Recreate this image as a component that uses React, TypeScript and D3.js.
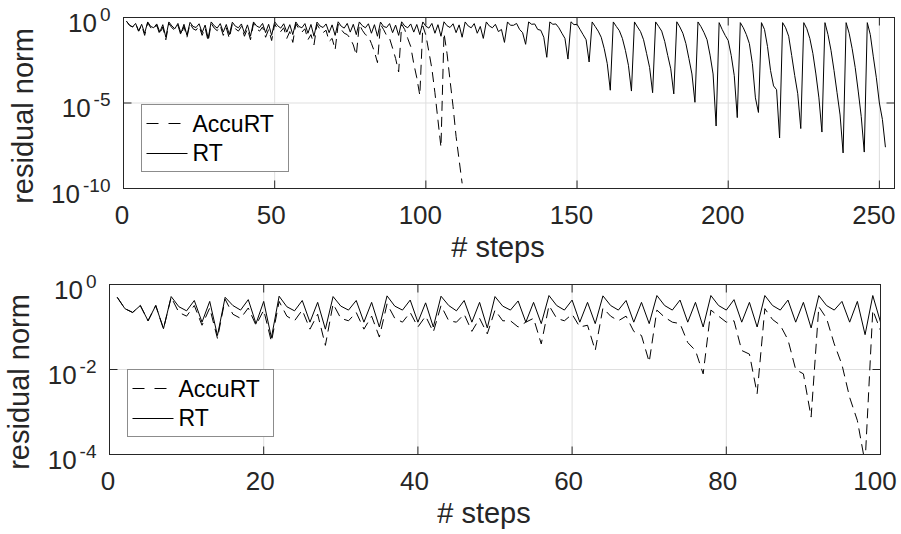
import React from "react";
import * as d3 from "d3";

// ---- data (residual norms, step index = position + 1) ----
const topRT = [
  0.60, 0.35, 0.28, 0.45, 0.16, 0.40, 0.12,
  0.55, 0.30, 0.25, 0.42, 0.14, 0.38, 0.07,
  0.55, 0.32, 0.22, 0.45, 0.12, 0.40, 0.09,
  0.52, 0.30, 0.26, 0.43, 0.13, 0.36, 0.06,
  0.55, 0.33, 0.24, 0.44, 0.14, 0.39, 0.10,
  0.53, 0.31, 0.25, 0.42, 0.12, 0.37, 0.08,
  0.55, 0.32, 0.26, 0.45, 0.13, 0.40, 0.09,
  0.56, 0.33, 0.24, 0.43, 0.14, 0.38, 0.10,
  0.55, 0.30, 0.25, 0.44, 0.12, 0.39, 0.08,
  0.54, 0.32, 0.26, 0.42, 0.13, 0.37, 0.09,
  0.56, 0.31, 0.24, 0.45, 0.14, 0.40, 0.10,
  0.55, 0.33, 0.25, 0.43, 0.12, 0.38, 0.08,
  0.54, 0.30, 0.26, 0.44, 0.13, 0.36, 0.09,
  0.56, 0.32, 0.25, 0.42, 0.14, 0.39, 0.10,
  0.55, 0.31, 0.24, 0.45, 0.12, 0.38, 0.08,
  0.56, 0.33, 0.26, 0.43, 0.13, 0.37, 0.07,
  0.55, 0.32, 0.25, 0.44, 0.12, 0.30, 0.06,
  0.55, 0.32, 0.25, 0.40, 0.15, 0.20, 0.035,
  0.55, 0.35, 0.35, 0.45, 0.20, 0.13, 0.027,
  0.55, 0.40, 0.42, 0.20, 0.18, 0.07, 0.0047,
  0.55, 0.40, 0.42, 0.25, 0.12, 0.06, 0.0037,
  0.56, 0.38, 0.40, 0.20, 0.10, 0.05, 0.0025,
  0.55, 0.30, 0.16, 0.07, 0.015, 0.002, 5.6e-5,
  0.55, 0.30, 0.17, 0.06, 0.012, 0.0016, 5.0e-5,
  0.55, 0.28, 0.15, 0.05, 0.008, 0.0012, 4.0e-5,
  0.55, 0.30, 0.16, 0.04, 0.006, 0.001, 3.4e-5,
  0.56, 0.28, 0.12, 0.03, 0.004, 5e-4, 1.1e-5,
  0.55, 0.29, 0.13, 0.05, 0.0063, 5e-4, 4.5e-7,
  0.50, 0.20, 0.09, 0.045, 0.006, 4e-4, 1.4e-6,
  0.50, 0.25, 0.10, 0.03, 0.002, 2e-5, 2.8e-6,
  0.50, 0.20, 0.02, 8e-4, 1e-4, 6e-5, 9e-8,
  0.50, 0.25, 0.08, 0.006, 4e-4, 3.5e-5, 3.2e-7,
  0.50, 0.22, 0.06, 0.008, 5e-4, 2e-5, 2e-7,
  0.50, 0.10, 0.012, 8e-4, 4e-5, 2e-6, 1.2e-8,
  0.50, 0.12, 0.015, 0.0012, 5e-5, 1.6e-6, 1.35e-8,
  0.50, 0.10, 0.005, 3e-4, 1e-5, 1.1e-6, 2.6e-8,
];

const topAccuRT = [
  0.60, 0.35, 0.28, 0.45, 0.16, 0.35, 0.09,
  0.50, 0.25, 0.20, 0.35, 0.10, 0.28, 0.05,
  0.45, 0.25, 0.18, 0.35, 0.09, 0.30, 0.07,
  0.45, 0.22, 0.18, 0.32, 0.09, 0.25, 0.04,
  0.45, 0.24, 0.17, 0.33, 0.09, 0.25, 0.06,
  0.42, 0.22, 0.16, 0.30, 0.08, 0.22, 0.05,
  0.45, 0.22, 0.16, 0.28, 0.07, 0.20, 0.045,
  0.42, 0.20, 0.15, 0.25, 0.06, 0.15, 0.035,
  0.42, 0.22, 0.14, 0.22, 0.05, 0.10, 0.025,
  0.40, 0.20, 0.13, 0.18, 0.04, 0.06, 0.013,
  0.40, 0.20, 0.12, 0.10, 0.06, 0.025, 0.0063,
  0.40, 0.18, 0.10, 0.08, 0.03, 0.01, 0.0023,
  0.40, 0.20, 0.09, 0.06, 0.016, 0.004, 6.6e-4,
  0.40, 0.20, 0.06, 0.02, 0.002, 3e-4, 2.8e-5,
  0.32, 0.093, 0.010, 0.001, 4e-5, 1e-6, 2.6e-8,
  0.12, 0.008, 2.1e-4, 6.3e-6, 1.1e-7, 4.7e-9, 2e-10,
];

const bottomRT = [
  0.50, 0.27, 0.22, 0.32, 0.14, 0.32, 0.091,
  0.52, 0.30, 0.24, 0.42, 0.13, 0.40, 0.063,
  0.50, 0.32, 0.25, 0.44, 0.12, 0.40, 0.056,
  0.53, 0.30, 0.24, 0.42, 0.13, 0.38, 0.089,
  0.52, 0.31, 0.25, 0.42, 0.13, 0.38, 0.10,
  0.54, 0.31, 0.25, 0.43, 0.13, 0.37, 0.10,
  0.53, 0.32, 0.24, 0.42, 0.13, 0.38, 0.095,
  0.52, 0.31, 0.25, 0.41, 0.13, 0.38, 0.12,
  0.55, 0.32, 0.25, 0.43, 0.13, 0.38, 0.12,
  0.54, 0.32, 0.25, 0.42, 0.13, 0.38, 0.12,
  0.55, 0.32, 0.25, 0.43, 0.13, 0.38, 0.10,
  0.55, 0.32, 0.25, 0.44, 0.13, 0.38, 0.10,
  0.55, 0.32, 0.25, 0.43, 0.13, 0.38, 0.095,
  0.55, 0.32, 0.25, 0.40, 0.13, 0.40, 0.066,
  0.55, 0.13,
];

const bottomAccuRT = [
  0.50, 0.27, 0.22, 0.32, 0.14, 0.32, 0.091,
  0.50, 0.22, 0.18, 0.32, 0.11, 0.28, 0.054,
  0.45, 0.20, 0.16, 0.28, 0.11, 0.25, 0.045,
  0.40, 0.18, 0.14, 0.25, 0.089, 0.20, 0.037,
  0.35, 0.16, 0.14, 0.22, 0.089, 0.18, 0.058,
  0.35, 0.16, 0.13, 0.22, 0.10, 0.18, 0.076,
  0.32, 0.14, 0.13, 0.20, 0.079, 0.16, 0.069,
  0.25, 0.14, 0.14, 0.10, 0.13, 0.16, 0.040,
  0.32, 0.16, 0.14, 0.20, 0.10, 0.11, 0.028,
  0.28, 0.18, 0.14, 0.18, 0.079, 0.063, 0.015,
  0.25, 0.17, 0.13, 0.12, 0.043, 0.028, 0.0079,
  0.25, 0.18, 0.13, 0.14, 0.028, 0.023, 0.0027,
  0.27, 0.15, 0.11, 0.050, 0.010, 0.0079, 7.6e-4,
  0.30, 0.16, 0.040, 0.013, 0.0022, 6.3e-4, 6.3e-5,
  0.25, 0.083,
];

const topXTicks = [0, 50, 100, 150, 200, 250];
const topYTicks = [1e-10, 1e-5, 1];
const topYExps = ["-10", "-5", "0"];
const bottomXTicks = [0, 20, 40, 60, 80, 100];
const bottomYTicks = [1e-4, 1e-2, 1];
const bottomYExps = ["-4", "-2", "0"];
const seriesNames = ["AccuRT", "RT"];
const xLabelText = "# steps";
const yLabelText = "residual norm";

const FONT = "'Liberation Sans', Arial, Helvetica, sans-serif";
const TXT = "#262626";
const GRID = "#dfdfdf";
const DASH = "10,6";

type PanelProps = {
  id: string;
  rt: number[];
  accu: number[];
  xMax: number;
  yMin: number;
  left: number;
  right: number;
  top: number;
  bottom: number;
  xTicks: number[];
  yTicks: number[];
  yExps: string[];
  legendX: number;
  legendY: number;
  legendW: number;
  yLabelX: number;
  yLabelY: number;
  xLabelX: number;
};

function Panel(p: PanelProps) {
  const x = d3.scaleLinear().domain([0, p.xMax]).range([p.left, p.right]);
  const y = d3.scaleLog().domain([p.yMin, 1]).range([p.bottom, p.top]);
  const line = d3
    .line<number>()
    .x((_d, i) => x(i + 1))
    .y((d) => y(d));
  const tl = 8;
  const lx = p.legendX;
  const ly = p.legendY;
  return (
    <g>
      <defs>
        <clipPath id={p.id}>
          <rect x={p.left} y={p.top} width={p.right - p.left} height={p.bottom - p.top} />
        </clipPath>
      </defs>
      {p.xTicks.map((t) =>
        x(t) > p.left + 1 && x(t) < p.right - 1 ? (
          <line key={"gx" + t} x1={x(t)} x2={x(t)} y1={p.top} y2={p.bottom} stroke={GRID} strokeWidth={1} />
        ) : null
      )}
      {p.yTicks.map((t) =>
        y(t) > p.top + 1 && y(t) < p.bottom - 1 ? (
          <line key={"gy" + t} x1={p.left} x2={p.right} y1={y(t)} y2={y(t)} stroke={GRID} strokeWidth={1} />
        ) : null
      )}
      <g clipPath={`url(#${p.id})`}>
        <path d={line(p.accu) || ""} fill="none" stroke="#000" strokeWidth={1} strokeDasharray={DASH} />
        <path d={line(p.rt) || ""} fill="none" stroke="#000" strokeWidth={1} />
      </g>
      <rect x={p.left} y={p.top} width={p.right - p.left} height={p.bottom - p.top} fill="none" stroke={TXT} strokeWidth={1} />
      {p.xTicks.map((t) => (
        <g key={"tx" + t}>
          <line x1={x(t)} x2={x(t)} y1={p.bottom} y2={p.bottom - tl} stroke={TXT} />
          <line x1={x(t)} x2={x(t)} y1={p.top} y2={p.top + tl} stroke={TXT} />
          <text
            x={x(t)}
            dx={-(2 * String(t).length - 0.5)}
            y={p.bottom + 35}
            fontSize={26}
            textAnchor="middle"
            fill={TXT}
            fontFamily={FONT}
          >
            {t}
          </text>
        </g>
      ))}
      {p.yTicks.map((t, i) => (
        <g key={"ty" + t}>
          <line x1={p.left} x2={p.left + tl} y1={y(t)} y2={y(t)} stroke={TXT} />
          <line x1={p.right} x2={p.right - tl} y1={y(t)} y2={y(t)} stroke={TXT} />
          <text x={p.left - 13} y={y(t) + 14} textAnchor="end" fill={TXT} fontFamily={FONT}>
            <tspan fontSize={26}>10</tspan>
            <tspan fontSize={19} dy={-11} dx={3}>
              {p.yExps[i]}
            </tspan>
          </text>
        </g>
      ))}
      <text x={p.xLabelX} y={p.bottom + 68} textAnchor="middle" fontSize={29} fill={TXT} fontFamily={FONT}>
        {xLabelText}
      </text>
      <text
        transform={`translate(${p.yLabelX},${p.yLabelY}) rotate(-90)`}
        textAnchor="middle"
        fontSize={29}
        fill={TXT}
        fontFamily={FONT}
      >
        {yLabelText}
      </text>
      <g>
        <rect x={lx} y={ly} width={p.legendW} height={67} fill="#fff" stroke="#8c8c8c" strokeWidth={1} />
        <line x1={lx + 5} x2={lx + 46} y1={ly + 19} y2={ly + 19} stroke="#000" strokeWidth={1} strokeDasharray="12,10" />
        <line x1={lx + 5} x2={lx + 46} y1={ly + 49} y2={ly + 49} stroke="#000" strokeWidth={1} />
        <text x={lx + 51} y={ly + 27.5} fontSize={23} fill="#000" fontFamily={FONT}>
          {seriesNames[0]}
        </text>
        <text x={lx + 51} y={ly + 56.5} fontSize={23} fill="#000" fontFamily={FONT}>
          {seriesNames[1]}
        </text>
      </g>
    </g>
  );
}

export default function App() {
  return (
    <svg
      width={901}
      height={534}
      viewBox="0 0 901 534"
      style={{ position: "absolute", left: 0, top: 0, background: "#fff" }}
    >
      <rect x={0} y={0} width={901} height={534} fill="#fff" />
      <Panel
        id="clipTop"
        rt={topRT}
        accu={topAccuRT}
        xMax={255}
        yMin={1e-10}
        left={123.5}
        right={894.5}
        top={17.5}
        bottom={188.5}
        xTicks={topXTicks}
        yTicks={topYTicks}
        yExps={topYExps}
        legendX={141.5}
        legendY={104.5}
        legendW={147}
        yLabelX={33}
        yLabelY={116}
        xLabelX={498}
      />
      <Panel
        id="clipBottom"
        rt={bottomRT}
        accu={bottomAccuRT}
        xMax={100}
        yMin={1e-4}
        left={109.5}
        right={880.5}
        top={284.5}
        bottom={454.5}
        xTicks={bottomXTicks}
        yTicks={bottomYTicks}
        yExps={bottomYExps}
        legendX={127.5}
        legendY={369.5}
        legendW={146}
        yLabelX={29}
        yLabelY={382}
        xLabelX={484}
      />
    </svg>
  );
}
